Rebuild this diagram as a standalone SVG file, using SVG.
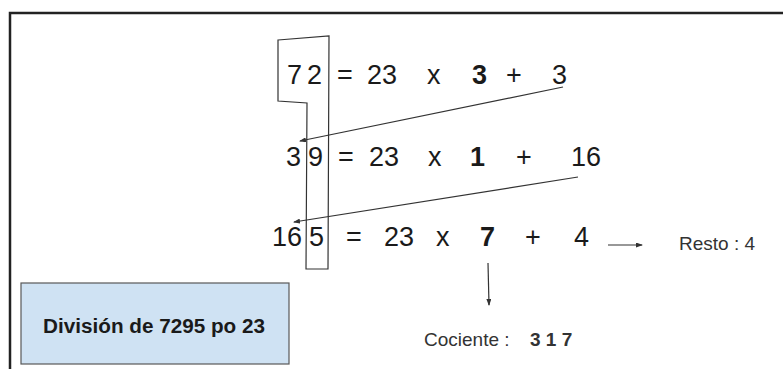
<svg xmlns="http://www.w3.org/2000/svg" width="783" height="369" viewBox="0 0 783 369">
<defs>
<style>
.t{font-family:"Liberation Sans",Arial,sans-serif;fill:#1a1a1a}
.row{font-size:27px}
.b{font-weight:bold}
.lbl{font-size:19px;fill:#333}
.ln{fill:none;stroke:#333;stroke-width:1.2}
.frame{fill:none;stroke:#222;stroke-width:2.5}
</style>
<marker id="ah" markerWidth="7" markerHeight="5" refX="6" refY="2.5" orient="auto" markerUnits="userSpaceOnUse">
<path d="M0,0 L7,2.5 L0,5 Z" fill="#333"/>
</marker>
</defs>
<rect width="783" height="369" fill="#fff"/>
<path class="frame" d="M10,369 L10,13 L783,13"/>
<g id="bracket">
<path class="ln" d="M278,40 L329,36 L328,269 L306,269 L307,103 L278,101 Z"/>
</g>
<g id="row1">
<text class="t row" x="287" y="84">7</text>
<text class="t row" x="307" y="84">2</text>
<text class="t row" x="337" y="84">=</text>
<text class="t row" x="367" y="84">23</text>
<text class="t row" x="427" y="84">x</text>
<text class="t row b" x="472" y="84">3</text>
<text class="t row" x="506" y="84">+</text>
<text class="t row" x="552" y="84">3</text>
</g>
<g id="row2">
<text class="t row" x="286" y="166">3</text>
<text class="t row" x="308" y="166">9</text>
<text class="t row" x="338" y="166">=</text>
<text class="t row" x="369" y="166">23</text>
<text class="t row" x="428" y="166">x</text>
<text class="t row b" x="470" y="166">1</text>
<text class="t row" x="516" y="166">+</text>
<text class="t row" x="571" y="166">16</text>
</g>
<g id="row3">
<text class="t row" x="272" y="246">16</text>
<text class="t row" x="309" y="246">5</text>
<text class="t row" x="346" y="246">=</text>
<text class="t row" x="384" y="246">23</text>
<text class="t row" x="436" y="246">x</text>
<text class="t row b" x="480" y="246">7</text>
<text class="t row" x="525" y="246">+</text>
<text class="t row" x="574" y="246">4</text>
</g>
<g id="connectors">
<path class="ln" d="M563,87 L300,141" marker-end="url(#ah)"/>
<path class="ln" d="M578,177 L294,222" marker-end="url(#ah)"/>
<path class="ln" d="M608,245 L642,245" marker-end="url(#ah)"/>
<path class="ln" d="M488,263 L489,305" marker-end="url(#ah)"/>
</g>
<g id="resto">
<text class="t lbl" x="679" y="250">Resto : 4</text>
</g>
<g id="cociente">
<text class="t lbl" x="424" y="346">Cociente :</text>
<text class="t lbl b" x="530" y="346">3 1 7</text>
</g>
<g id="title">
<rect x="21" y="283" width="268" height="81" fill="#cfe2f3" stroke="#595959" stroke-width="1.2"/>
<text class="t b" x="154" y="333" font-size="20.7" text-anchor="middle">División de 7295 po 23</text>
</g>
</svg>
